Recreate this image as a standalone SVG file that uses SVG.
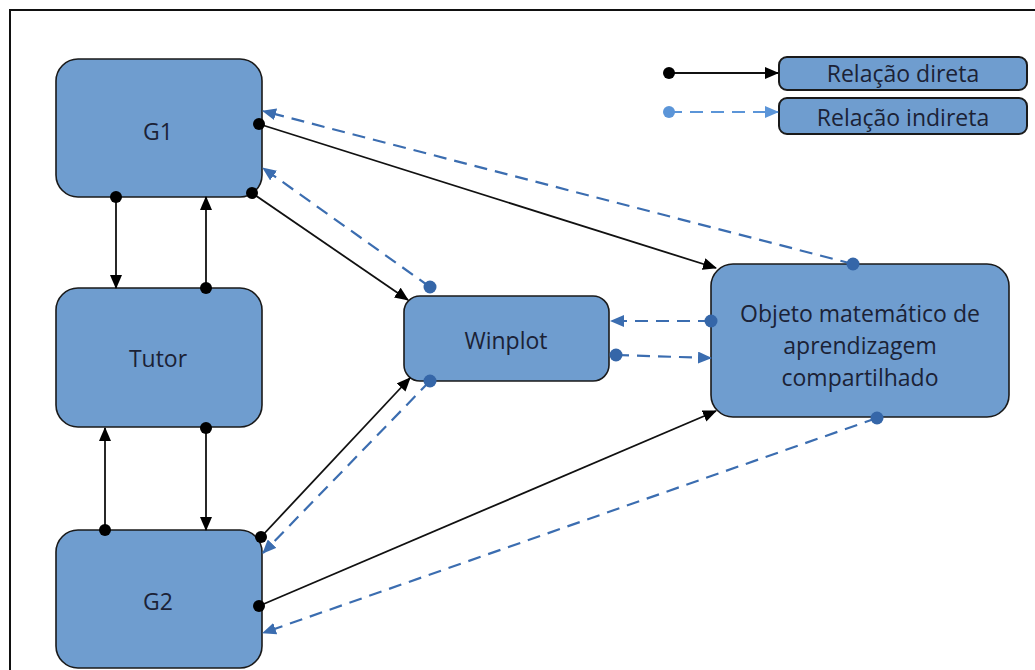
<svg xmlns="http://www.w3.org/2000/svg" width="1035" height="670" viewBox="0 0 1035 670">
<style>
.node{fill:#6f9dcf;stroke:#1a1a1a;stroke-width:1.6}
.leg{fill:#6f9dcf;stroke:#1a1a1a;stroke-width:2}
.lbl{font-family:"Open Sans","Liberation Sans",sans-serif;font-size:23px;fill:#1b2236;text-anchor:middle;dominant-baseline:central}
.d{stroke:#111;stroke-width:1.8;fill:none}
.i{stroke:#3b6db0;stroke-width:2.2;fill:none;stroke-dasharray:13 8}
.il{stroke:#5b95d8;stroke-width:2.2;fill:none;stroke-dasharray:13 8}
.dd{fill:#000}
.id{fill:#3566a8}
</style>
<defs>
<marker id="ab" markerWidth="14" markerHeight="12" refX="13" refY="6" orient="auto" markerUnits="userSpaceOnUse"><path d="M0,0 L14,6 L0,12 z" fill="#000"/></marker>
<marker id="aa" markerWidth="14" markerHeight="12" refX="13" refY="6" orient="auto" markerUnits="userSpaceOnUse"><path d="M0,0 L14,6 L0,12 z" fill="#3b6db0"/></marker>
<marker id="al" markerWidth="14" markerHeight="12" refX="13" refY="6" orient="auto" markerUnits="userSpaceOnUse"><path d="M0,0 L14,6 L0,12 z" fill="#5b95d8"/></marker>
</defs>
<rect x="10" y="10" width="1040" height="680" fill="#fff" stroke="#111" stroke-width="2"/>
<g id="G1"><rect class="node" x="56" y="59" width="206" height="138" rx="22"/><text class="lbl" x="158" y="131">G1</text></g>
<g id="Tutor"><rect class="node" x="56" y="288" width="206" height="139" rx="22"/><text class="lbl" x="158" y="358">Tutor</text></g>
<g id="G2"><rect class="node" x="56" y="530" width="206" height="138" rx="22"/><text class="lbl" x="158" y="601">G2</text></g>
<g id="Winplot"><rect class="node" x="404" y="296" width="205" height="85" rx="16"/><text class="lbl" x="506" y="340">Winplot</text></g>
<g id="Objeto"><rect class="node" x="711" y="264" width="298" height="153" rx="22"/><text class="lbl" x="860" y="313">Objeto matemático de</text><text class="lbl" x="860" y="345">aprendizagem</text><text class="lbl" x="860" y="377">compartilhado</text></g>
<g id="legenda-direta"><rect class="leg" x="779" y="57" width="248" height="33" rx="8"/><text class="lbl" x="903" y="73">Relação direta</text></g>
<g id="legenda-indireta"><rect class="leg" x="779" y="98" width="248" height="36" rx="8"/><text class="lbl" x="903" y="117">Relação indireta</text></g>
<g id="connectors">
<line class="d" x1="116" y1="197" x2="116" y2="288" marker-end="url(#ab)"/>
<line class="d" x1="206" y1="288" x2="206" y2="197" marker-end="url(#ab)"/>
<line class="d" x1="206" y1="428" x2="206" y2="530" marker-end="url(#ab)"/>
<line class="d" x1="105" y1="530" x2="105" y2="428" marker-end="url(#ab)"/>
<line class="d" x1="259" y1="124" x2="716" y2="268" marker-end="url(#ab)"/>
<line class="d" x1="252" y1="193" x2="408" y2="300" marker-end="url(#ab)"/>
<line class="d" x1="261" y1="537" x2="410" y2="378" marker-end="url(#ab)"/>
<line class="d" x1="259" y1="606" x2="716" y2="411" marker-end="url(#ab)"/>
<line class="i" x1="853" y1="264" x2="263" y2="111" marker-end="url(#aa)"/>
<line class="i" x1="430" y1="287" x2="263" y2="168" marker-end="url(#aa)"/>
<line class="i" x1="430" y1="381" x2="263" y2="553" marker-end="url(#aa)"/>
<line class="i" x1="711" y1="321" x2="611" y2="321" marker-end="url(#aa)"/>
<line class="i" x1="616" y1="355" x2="711" y2="358" marker-end="url(#aa)"/>
<line class="i" x1="877" y1="418" x2="263" y2="633" marker-end="url(#aa)"/>
<line class="d" x1="669" y1="73" x2="778" y2="73" marker-end="url(#ab)"/>
<line class="il" x1="669" y1="112" x2="778" y2="112" marker-end="url(#al)"/>
<circle class="dd" cx="116" cy="197" r="6"/>
<circle class="dd" cx="206" cy="288" r="6"/>
<circle class="dd" cx="206" cy="428" r="6"/>
<circle class="dd" cx="105" cy="530" r="6"/>
<circle class="dd" cx="259" cy="124" r="6"/>
<circle class="dd" cx="252" cy="193" r="6"/>
<circle class="dd" cx="261" cy="537" r="6"/>
<circle class="dd" cx="259" cy="606" r="6"/>
<circle class="id" cx="853" cy="264" r="6.5"/>
<circle class="id" cx="430" cy="287" r="6.5"/>
<circle class="id" cx="430" cy="381" r="6.5"/>
<circle class="id" cx="711" cy="321" r="6.5"/>
<circle class="id" cx="616" cy="355" r="6.5"/>
<circle class="id" cx="877" cy="418" r="6.5"/>
<circle class="dd" cx="669" cy="73" r="6"/>
<circle fill="#5b95d8" cx="669" cy="112" r="6"/>
</g>
</svg>
